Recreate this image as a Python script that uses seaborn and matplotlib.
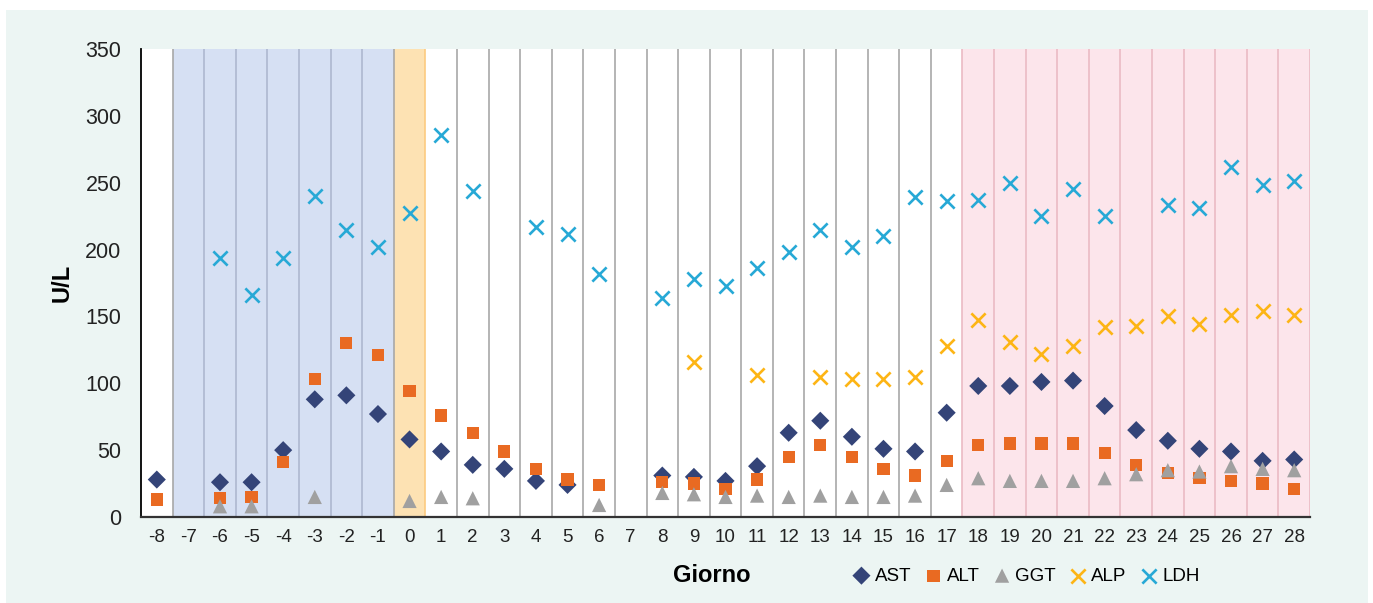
import numpy as np
import pandas as pd
import seaborn as sns
import matplotlib.pyplot as plt
from matplotlib.patches import Rectangle

nan = np.nan

days = list(range(-8, 29))

ast = [28, nan, 26, 26, 50, 88, 91, 77, 58, 49, 39, 36, 27, 24, nan, nan, 31, 30, 27,
       38, 63, 72, 60, 51, 49, 78, 98, 98, 101, 102, 83, 65, 57, 51, 49, 42, 43]
alt = [13, nan, 14, 15, 41, 103, 130, 121, 94, 76, 63, 49, 36, 28, 24, nan, 26, 25, 21,
       28, 45, 54, 45, 36, 31, 42, 54, 55, 55, 55, 48, 39, 33, 29, 27, 25, 21]
ggt = [nan, nan, 8, 8, nan, 15, nan, nan, 12, 15, 14, nan, nan, nan, 9, nan, 18, 17, 15,
       16, 15, 16, 15, 15, 16, 24, 29, 27, 27, 27, 29, 32, 35, 34, 38, 36, 35]
alp = [nan, nan, nan, nan, nan, nan, nan, nan, nan, nan, nan, nan, nan, nan, nan, nan, nan, 116, nan,
       106, nan, 105, 103, 103, 105, 128, 147, 131, 122, 128, 142, 143, 150, 144, 151, 154, 151]
ldh = [nan, nan, 194, 166, 194, 240, 215, 202, 227, 286, 244, nan, 217, 212, 182, nan, 164, 178, 173,
       186, 198, 215, 202, 210, 239, 236, 237, 250, 225, 245, 225, nan, 233, 231, 262, 248, 251]

series_names = ["AST", "ALT", "GGT", "ALP", "LDH"]
series_values = [ast, alt, ggt, alp, ldh]

# shaded periods (first day, last day)
pre_period = (-7, -1)
day_zero = (0, 0)
late_period = (18, 28)

styles = {
    "AST": dict(marker="D", color="#344478", s=85),
    "ALT": dict(marker="s", color="#E96A22", s=78),
    "GGT": dict(marker="^", color="#A0A0A0", s=105),
    "ALP": dict(marker="x", color="#FDB515", s=105, linewidth=1.9),
    "LDH": dict(marker="x", color="#27A9D6", s=105, linewidth=1.9),
}

rows = []
for name, vals in zip(series_names, series_values):
    for d, v in zip(days, vals):
        rows.append({"Giorno": d, "U/L": v, "Serie": name})
df = pd.DataFrame(rows).dropna()

plt.rcParams["font.family"] = ["Liberation Sans Narrow", "Liberation Sans", "DejaVu Sans"]

fig = plt.figure(figsize=(13.73, 6.03), dpi=100)
fig.patches.append(Rectangle((6 / 1373, 0), 1362 / 1373, 1 - 10 / 603,
                             transform=fig.transFigure, facecolor="#ECF5F3",
                             edgecolor="none", zorder=-10))
ax = fig.add_axes([141 / 1373, 1 - 517 / 603, 1169 / 1373, 468 / 603])
ax.set_facecolor("white")

ax.axvspan(pre_period[0] - 0.5, pre_period[1] + 0.5, color="#D6E0F3", lw=0, zorder=0)
ax.axvspan(day_zero[0] - 0.5, day_zero[1] + 0.5, color="#FDE2B3", lw=0, zorder=0)
ax.axvspan(late_period[0] - 0.5, late_period[1] + 0.5, color="#FCE5EB", lw=0, zorder=0)

for b in np.array(days[:-1]) + 0.5:
    if pre_period[0] - 0.5 < b < pre_period[1] + 0.5:
        c = "#AEB8CF"
    elif late_period[0] - 0.5 <= b:
        c = "#EBBAC4"
    elif b == day_zero[1] + 0.5:
        c = "#FCCB80"
    else:
        c = "#A8A8A8"
    ax.axvline(b, color=c, lw=1.2, zorder=1)
ax.axvline(days[-1] + 0.5, color="#EBBAC4", lw=1.2, zorder=1)

for name in series_names:
    st = styles[name]
    sub = df[df["Serie"] == name]
    kw = dict(marker=st["marker"], color=st["color"], s=st["s"], label=name, zorder=3, ax=ax)
    if st["marker"] == "x":
        kw["linewidth"] = st["linewidth"]
    else:
        kw["edgecolor"] = "none"
    sns.scatterplot(data=sub, x="Giorno", y="U/L", **kw)

ax.set_xlim(days[0] - 0.5, days[-1] + 0.5)
ax.set_ylim(0, 350)
ax.set_xticks(days)
ax.set_xticklabels([str(d) for d in days])
ax.set_yticks(range(0, 351, 50))
ax.tick_params(axis="x", length=0, pad=9, labelsize=13.5, colors="#222222")
ax.tick_params(axis="y", length=0, pad=14, labelsize=15.5, colors="#222222")

for side in ["top", "right"]:
    ax.spines[side].set_visible(False)
ax.spines["left"].set_color("black")
ax.spines["left"].set_linewidth(1.3)
ax.spines["bottom"].set_color("#333333")
ax.spines["bottom"].set_linewidth(1.6)
ax.spines["left"].set_zorder(4)
ax.spines["bottom"].set_zorder(4)

ax.set_xlabel("Giorno", fontsize=17, fontweight="bold")
ax.xaxis.set_label_coords(0.488, -0.126)
ax.xaxis.label.set_va("center")
ax.set_ylabel("U/L", fontsize=17, fontweight="bold")
ax.yaxis.set_label_coords(-0.0676, 0.5)
ax.yaxis.label.set_va("center")

ax.get_legend().remove()
handles, labels = ax.get_legend_handles_labels()
fig.legend(handles, labels, loc="center", bbox_to_anchor=(1025 / 1373, 1 - 576 / 603),
           ncol=5, frameon=False, fontsize=13.5, handletextpad=0.1, columnspacing=0.6,
           handlelength=1.2)

fig.savefig("out.png", dpi=100, facecolor="white")
